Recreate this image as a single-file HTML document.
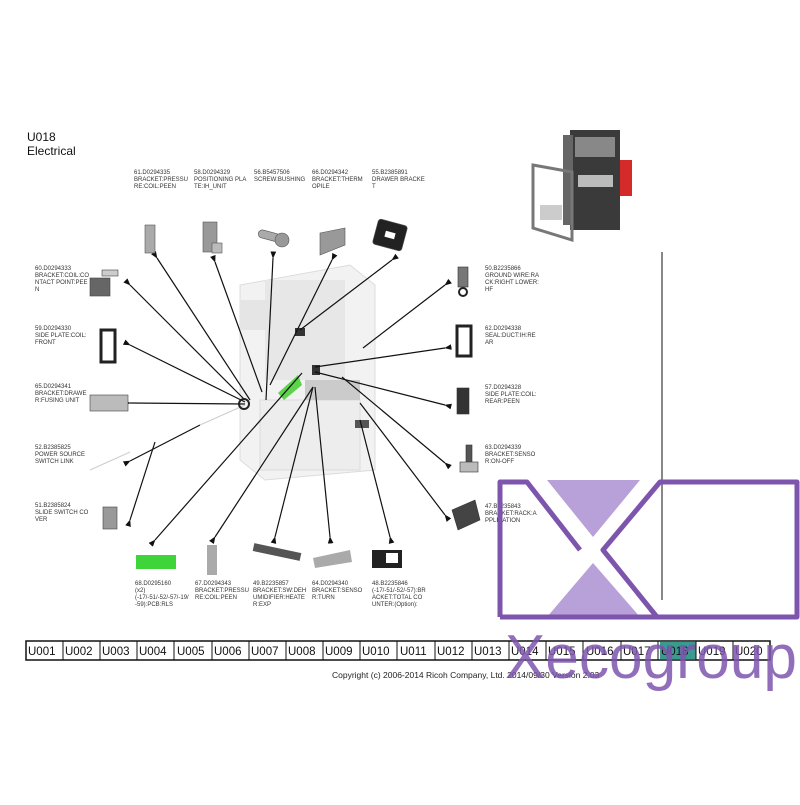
<!DOCTYPE html>
<html><head><meta charset="utf-8"><style>
body{margin:0;background:#fff;}
svg text{font-family:"Liberation Sans",sans-serif;}
.s{font-size:6px;fill:#333;}
</style></head><body>
<svg width="800" height="800" viewBox="0 0 800 800" xmlns="http://www.w3.org/2000/svg">
<defs>
<marker id="a" viewBox="0 0 10 10" refX="1" refY="5" markerWidth="6" markerHeight="6" orient="auto-start-reverse"><path d="M0,5 L10,1 L10,9 z" fill="#111"/></marker>
</defs>
<rect width="800" height="800" fill="#fff"/>
<text x="27" y="141" font-size="12" fill="#111">U018</text>
<text x="27" y="155" font-size="12" fill="#111">Electrical</text>

<!-- product image top right -->
<g>
<rect x="570" y="130" width="50" height="100" fill="#3a3a3a"/>
<rect x="563" y="135" width="10" height="90" fill="#666"/>
<rect x="575" y="137" width="40" height="20" fill="#888"/>
<rect x="578" y="175" width="35" height="12" fill="#bbb"/>
<rect x="620" y="160" width="12" height="36" fill="#d42a2a"/>
<polygon points="533,165 572,172 572,240 533,228" fill="none" stroke="#777" stroke-width="3"/>
<rect x="540" y="205" width="22" height="15" fill="#ccc"/>
</g>

<!-- central assembly -->
<g opacity="0.5">
<polygon points="240,285 350,265 375,285 375,470 265,480 240,460" fill="#e6e6e6" stroke="#bbb"/>
<rect x="265" y="280" width="80" height="100" fill="#d0d0d0"/>
<rect x="240" y="300" width="30" height="30" fill="#ccc"/>
<rect x="260" y="400" width="100" height="70" fill="#ddd" stroke="#bbb"/>
<rect x="305" y="380" width="55" height="20" fill="#999"/>
</g>
<polygon points="278,393 298,375 302,385 284,400" fill="#5bd44a"/>
<rect x="295" y="328" width="10" height="8" fill="#333"/>
<rect x="312" y="365" width="8" height="10" fill="#333"/>
<rect x="355" y="420" width="14" height="8" fill="#555"/>

<!-- leader lines -->
<g stroke="#111" stroke-width="1.2" marker-start="url(#a)">
<line x1="157" y1="258" x2="250" y2="400"/>
<line x1="215" y1="262" x2="262" y2="392"/>
<line x1="273" y1="258" x2="266" y2="400"/>
<line x1="332" y1="260" x2="270" y2="385"/>
<line x1="392" y1="260" x2="300" y2="330"/>
<line x1="130" y1="285" x2="245" y2="400"/>
<line x1="130" y1="345" x2="245" y2="402"/>
<line x1="130" y1="403" x2="245" y2="404"/>
<line x1="130" y1="461" x2="200" y2="425"/>
<line x1="130" y1="520" x2="155" y2="442"/>
<line x1="445" y1="285" x2="363" y2="348"/>
<line x1="445" y1="348" x2="315" y2="367"/>
<line x1="445" y1="405" x2="315" y2="372"/>
<line x1="445" y1="463" x2="342" y2="377"/>
<line x1="445" y1="515" x2="360" y2="403"/>
<line x1="155" y1="540" x2="302" y2="373"/>
<line x1="215" y1="537" x2="313" y2="387"/>
<line x1="275" y1="537" x2="313" y2="387"/>
<line x1="330" y1="537" x2="315" y2="387"/>
<line x1="390" y1="537" x2="360" y2="420"/>
</g>
<line x1="200" y1="425" x2="245" y2="405" stroke="#ccc"/>
<line x1="90" y1="470" x2="130" y2="452" stroke="#ccc"/>
<circle cx="244" cy="404" r="5" fill="none" stroke="#222" stroke-width="2"/>

<!-- top labels -->
<g class="s">
<text x="134" y="174">61.D0294335</text><text x="134" y="181">BRACKET:PRESSU</text><text x="134" y="188">RE:COIL:PEEN</text>
<text x="194" y="174">58.D0294329</text><text x="194" y="181">POSITIONING PLA</text><text x="194" y="188">TE:IH_UNIT</text>
<text x="254" y="174">56.B5457506</text><text x="254" y="181">SCREW:BUSHING</text>
<text x="312" y="174">66.D0294342</text><text x="312" y="181">BRACKET:THERM</text><text x="312" y="188">OPILE</text>
<text x="372" y="174">55.B2385891</text><text x="372" y="181">DRAWER BRACKE</text><text x="372" y="188">T</text>
</g>
<g fill="#888" stroke="#555" stroke-width="0.6">
<rect x="145" y="225" width="10" height="28" fill="#aaa"/>
<rect x="203" y="222" width="14" height="30" fill="#999"/>
<rect x="212" y="243" width="10" height="10" fill="#bbb"/>
<rect x="258" y="232" width="22" height="8" rx="4" fill="#aaa" transform="rotate(15 270 236)"/>
<circle cx="282" cy="240" r="7" fill="#999"/>
<polygon points="320,233 345,228 345,245 320,255" fill="#999"/>
<rect x="375" y="222" width="30" height="26" rx="3" fill="#222" transform="rotate(15 390 235)"/>
</g>
<rect x="385" y="232" width="10" height="6" fill="#fff" transform="rotate(15 390 235)"/>

<!-- left labels -->
<g class="s">
<text x="35" y="270">60.D0294333</text><text x="35" y="277">BRACKET:COIL:CO</text><text x="35" y="284">NTACT POINT:PEE</text><text x="35" y="291">N</text>
<text x="35" y="330">59.D0294330</text><text x="35" y="337">SIDE PLATE:COIL:</text><text x="35" y="344">FRONT</text>
<text x="35" y="388">65.D0294341</text><text x="35" y="395">BRACKET:DRAWE</text><text x="35" y="402">R:FUSING UNIT</text>
<text x="35" y="449">52.B2385825</text><text x="35" y="456">POWER SOURCE</text><text x="35" y="463">SWITCH LINK</text>
<text x="35" y="507">51.B2385824</text><text x="35" y="514">SLIDE SWITCH CO</text><text x="35" y="521">VER</text>
</g>
<g stroke="#444" stroke-width="0.6">
<rect x="90" y="278" width="20" height="18" fill="#666"/>
<rect x="102" y="270" width="16" height="6" fill="#ccc"/>
<rect x="101" y="330" width="14" height="32" fill="#fff" stroke="#222" stroke-width="3"/>
<rect x="90" y="395" width="38" height="16" fill="#bbb"/>
<rect x="103" y="507" width="14" height="22" fill="#999"/>
</g>

<!-- right labels -->
<g class="s">
<text x="485" y="270">50.B2235866</text><text x="485" y="277">GROUND WIRE:RA</text><text x="485" y="284">CK:RIGHT LOWER:</text><text x="485" y="291">HF</text>
<text x="485" y="330">62.D0294338</text><text x="485" y="337">SEAL:DUCT:IH:RE</text><text x="485" y="344">AR</text>
<text x="485" y="389">57.D0294328</text><text x="485" y="396">SIDE PLATE:COIL:</text><text x="485" y="403">REAR:PEEN</text>
<text x="485" y="449">63.D0294339</text><text x="485" y="456">BRACKET:SENSO</text><text x="485" y="463">R:ON-OFF</text>
<text x="485" y="508">47.B2235843</text><text x="485" y="515">BRACKET:RACK:A</text><text x="485" y="522">PPLICATION</text>
</g>
<g stroke="#333" stroke-width="0.6">
<rect x="458" y="267" width="10" height="20" fill="#777"/>
<circle cx="463" cy="292" r="4" fill="none" stroke="#222" stroke-width="2"/>
<rect x="457" y="326" width="14" height="30" fill="#fff" stroke="#222" stroke-width="3"/>
<rect x="457" y="388" width="12" height="26" fill="#333"/>
<rect x="466" y="445" width="6" height="24" fill="#555"/>
<rect x="460" y="462" width="18" height="10" fill="#bbb"/>
<polygon points="452,510 475,500 480,520 458,530" fill="#444"/>
</g>

<!-- bottom parts -->
<rect x="136" y="555" width="40" height="14" fill="#3fd43a"/>
<rect x="207" y="545" width="10" height="30" fill="#aaa"/>
<rect x="253" y="548" width="48" height="8" fill="#555" transform="rotate(12 277 552)"/>
<polygon points="313,558 350,550 352,562 315,568" fill="#aaa"/>
<rect x="372" y="550" width="30" height="18" fill="#222"/>
<rect x="386" y="553" width="12" height="10" fill="#fff"/>
<g class="s">
<text x="135" y="585">68.D0295160</text><text x="135" y="592">(x2)</text><text x="135" y="599">(-17/-51/-52/-57/-19/</text><text x="135" y="606">-59):PCB:RLS</text>
<text x="195" y="585">67.D0294343</text><text x="195" y="592">BRACKET:PRESSU</text><text x="195" y="599">RE:COIL:PEEN</text>
<text x="253" y="585">49.B2235857</text><text x="253" y="592">BRACKET:SW:DEH</text><text x="253" y="599">UMIDIFIER:HEATE</text><text x="253" y="606">R:EXP</text>
<text x="312" y="585">64.D0294340</text><text x="312" y="592">BRACKET:SENSO</text><text x="312" y="599">R:TURN</text>
<text x="372" y="585">48.B2235846</text><text x="372" y="592">(-17/-51/-52/-57):BR</text><text x="372" y="599">ACKET:TOTAL CO</text><text x="372" y="606">UNTER:(Option):</text>
</g>

<line x1="662" y1="252" x2="662" y2="600" stroke="#111"/>

<!-- logo shapes -->
<polygon points="547,480 640,480 593,537" fill="#b8a0d8"/>
<polygon points="593,563 547,617 640,617" fill="#b8a0d8"/>
<g fill="none" stroke="#7e55ad" stroke-width="5" stroke-linejoin="round">
<polyline points="500,617 500,482 527,482 580,550"/>
<polyline points="500,617 657,617 603,550 660,482 797,482 797,617 657,617"/>
</g>

<!-- tabs -->
<rect x="26" y="641" width="744" height="19" fill="none" stroke="#111" stroke-width="1.5"/>
<rect x="660" y="642" width="36" height="17" fill="#3a9a90"/>
<g stroke="#111" stroke-width="1">
<line x1="63" y1="641" x2="63" y2="660"/><line x1="100" y1="641" x2="100" y2="660"/><line x1="137" y1="641" x2="137" y2="660"/><line x1="174" y1="641" x2="174" y2="660"/><line x1="212" y1="641" x2="212" y2="660"/><line x1="249" y1="641" x2="249" y2="660"/><line x1="286" y1="641" x2="286" y2="660"/><line x1="323" y1="641" x2="323" y2="660"/><line x1="360" y1="641" x2="360" y2="660"/><line x1="397" y1="641" x2="397" y2="660"/><line x1="435" y1="641" x2="435" y2="660"/><line x1="472" y1="641" x2="472" y2="660"/><line x1="509" y1="641" x2="509" y2="660"/><line x1="546" y1="641" x2="546" y2="660"/><line x1="583" y1="641" x2="583" y2="660"/><line x1="621" y1="641" x2="621" y2="660"/><line x1="658" y1="641" x2="658" y2="660"/><line x1="696" y1="641" x2="696" y2="660"/><line x1="733" y1="641" x2="733" y2="660"/>
</g>
<g font-size="11.5" fill="#111">
<text x="28" y="655">U001</text><text x="65" y="655">U002</text><text x="102" y="655">U003</text><text x="139" y="655">U004</text><text x="177" y="655">U005</text><text x="214" y="655">U006</text><text x="251" y="655">U007</text><text x="288" y="655">U008</text><text x="325" y="655">U009</text><text x="362" y="655">U010</text><text x="400" y="655">U011</text><text x="437" y="655">U012</text><text x="474" y="655">U013</text><text x="511" y="655">U014</text><text x="548" y="655">U015</text><text x="586" y="655">U016</text><text x="623" y="655">U017</text><text x="661" y="655">U018</text><text x="698" y="655">U019</text><text x="735" y="655">U020</text>
</g>
<text x="332" y="678" font-size="8.5" fill="#222">Copyright (c) 2006-2014 Ricoh Company, Ltd.    2014/09/30 Version 2.03</text>

<text x="505" y="678" font-size="62" fill="#7e55ad" fill-opacity="0.85" textLength="292" lengthAdjust="spacingAndGlyphs">Xecogroup</text>
</svg>
</body></html>
